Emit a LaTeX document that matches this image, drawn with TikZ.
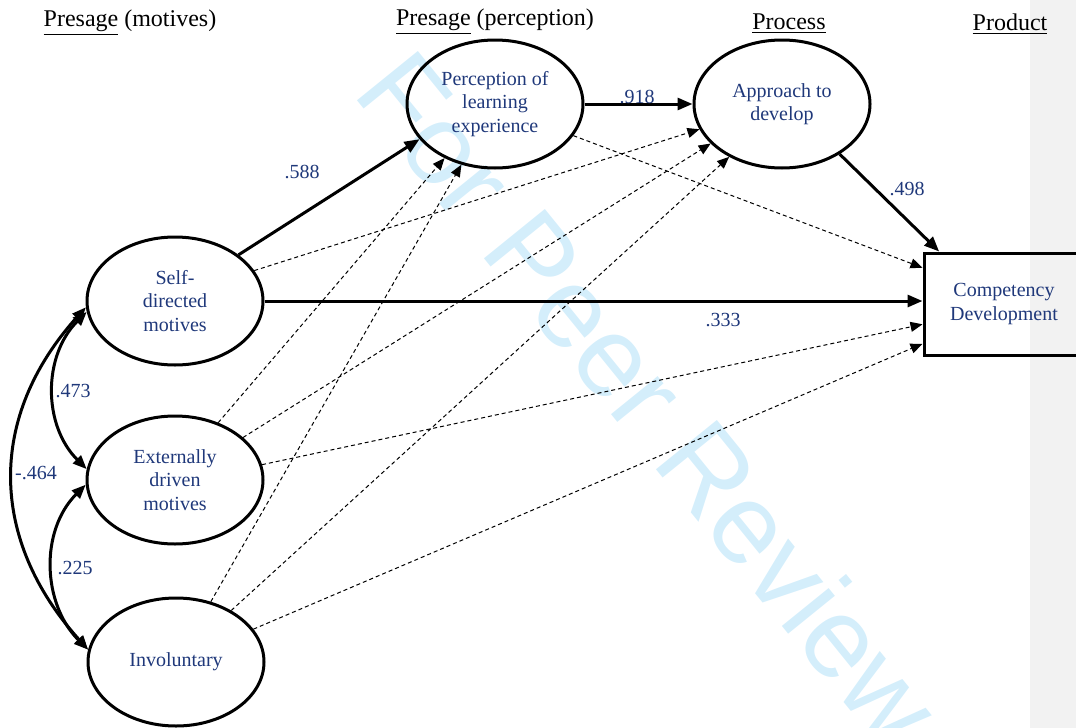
\documentclass[tikz,border=0pt]{standalone}
\usepackage{fontspec}
\setmainfont{Liberation Serif}
\newfontfamily\wmfont{Liberation Sans}
\usetikzlibrary{shapes,arrows.meta,calc}
\definecolor{pathblue}{RGB}{31,56,122}
\definecolor{wmblue}{RGB}{212,238,251}
\tikzset{lat/.style={ellipse,draw,line width=1.5pt,minimum width=88pt,minimum height=64pt,inner sep=0pt,align=center,text=pathblue,font=\fontsize{10}{11.75}\selectfont},obs/.style={rectangle,draw,line width=1.5pt,minimum width=80pt,minimum height=51pt,inner sep=0pt,align=center,text=pathblue,font=\fontsize{10}{11.75}\selectfont},coef/.style={text=pathblue,font=\fontsize{10}{12}\selectfont,inner sep=1pt}}
\tikzset{hdr/.style={font=\fontsize{12}{14}\selectfont,inner sep=0pt},sarr/.style={line width=1.5pt,-{Triangle[length=7.5pt,width=6pt]}},darr/.style={line width=0.5pt,dash pattern=on 2pt off 1.5pt,-{Triangle[length=6pt,width=5pt]}},carr/.style={line width=1.5pt,{Triangle[length=7pt,width=5.5pt]}-{Triangle[length=7pt,width=5.5pt]}}}

\begin{document}
\begin{tikzpicture}[x=0.5pt,y=-0.5pt]
    \clip (0,0) rectangle (1076,728);
    \fill[black!5] (1030,0) rectangle (1076,728);
    \node[text=wmblue,font=\wmfont\fontsize{57}{62}\selectfont,rotate=-51] (wm) at (650,398) {For Peer Review};
    \node[hdr] (h1) at (130,23) {\underline{Presage} (motives)};
    \node[hdr] (h2) at (495,22) {\underline{Presage} (perception)};
    \node[hdr] (h3) at (789,24) {\underline{Process}};
    \node[hdr] (h4) at (1010,24) {\underline{Product}};
    \node[lat] (s) at (175,301) {Self-\\directed\\motives};
    \node[lat] (e) at (175,480) {Externally\\driven\\motives};
    \node[lat] (i) at (176,662) {Involuntary};
    \node[lat] (p) at (495,104) {Perception of\\learning\\experience};
    \node[lat] (a) at (782,104) {Approach to\\develop};
    \node[obs] (c) at (1004,304) {Competency\\Development};
    \path (s.36) edge[sarr] (p.205)
    (p) edge[sarr] (a)
    (a.-41) edge[sarr] (c.141)
    (s.0) edge[sarr] (s.0 -| c.west)
    ;
    \path (s.21) edge[darr] (a.197)
    (e.53) edge[darr] (p.227)
    (e.32) edge[darr] (a.209)
    (e.10) edge[darr] (c.194)
    (i.60) edge[darr] (p.241)
    (i.43) edge[darr] (a.225)
    (i.23) edge[darr] (c.206)
    (p.-22) edge[darr] (c.156)
    ;
    \draw[carr] (s.187) .. controls +(-44,44) and +(-44,-44) .. (e.173);
    \draw[carr] (e.183) .. controls +(-46,46) and +(-46,-46) .. (i.172);
    \draw[carr] (s.184) .. controls +(-99,110) and +(-99,-110) .. (i.172);
    \node[coef] (k1) at (302,172) {.588};
    \node[coef] (k2) at (637,97) {.918};
    \node[coef] (k3) at (907,189) {.498};
    \node[coef] (k4) at (723,320) {.333};
    \node[coef] (k5) at (73,391) {.473};
    \node[coef] (k6) at (36,473) {-.464};
    \node[coef] (k7) at (75,568) {.225};
    \end{tikzpicture}
\end{document}
